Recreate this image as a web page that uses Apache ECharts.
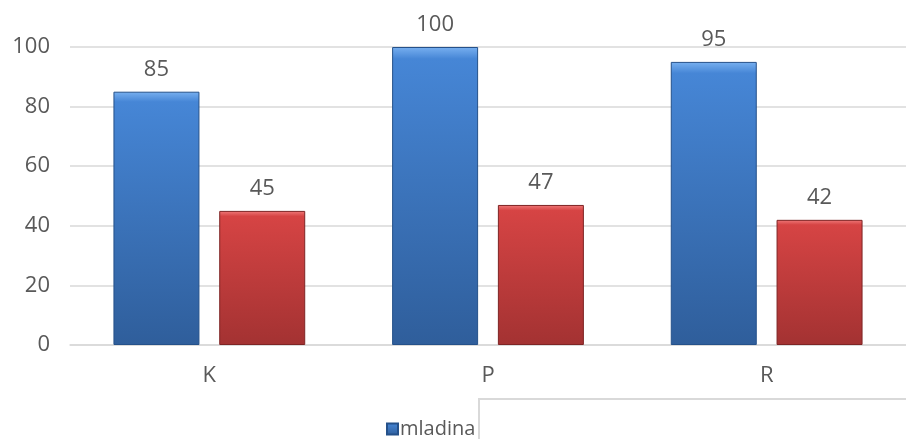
<!DOCTYPE html>
<html>
<head>
<meta charset="utf-8">
<script src="https://cdn.jsdelivr.net/npm/echarts@6/dist/echarts.min.js"></script>
<style>html,body{margin:0;padding:0;background:#fff}#c{width:906px;height:439px}</style>
</head>
<body>
<div id="c"></div>
<script>
var categories = ['K', 'P', 'R'];
var seriesBlueName = 'mladina';
var seriesBlue = [85, 100, 95];
var seriesRedName = '';
var seriesRed = [45, 47, 42];
var yTicks = [0, 20, 40, 60, 80, 100];

var chart = echarts.init(document.getElementById('c'), null, {renderer: 'canvas'});
var font = '"Open Sans", "Noto Sans", sans-serif';
function grad(top, mid, bottom) {
  return new echarts.graphic.LinearGradient(0, 0, 0, 1, [
    {offset: 0, color: top},
    {offset: 0.04, color: mid},
    {offset: 1, color: bottom}
  ]);
}
var lbl = {show: true, position: 'top', distance: 11, color: '#595959', fontSize: 22, fontFamily: font};
chart.setOption({
  animation: false,
  textStyle: {fontFamily: font},
  grid: {left: 70, right: 0, top: 47, bottom: 94, containLabel: false},
  legend: {
    data: [seriesBlueName],
    left: 381, top: 414,
    itemWidth: 11, itemHeight: 11, itemGap: 4,
    icon: 'rect',
    textStyle: {color: '#595959', fontSize: 20, fontFamily: font, padding: [0, 0, 0, -3]}
  },
  xAxis: {
    type: 'category',
    data: categories,
    axisTick: {show: false},
    axisLine: {lineStyle: {color: '#d9d9d9', width: 1.5}},
    axisLabel: {color: '#595959', fontSize: 22, margin: 20, fontFamily: font}
  },
  yAxis: {
    type: 'value',
    min: yTicks[0], max: yTicks[yTicks.length - 1], interval: 20,
    axisLine: {show: false},
    axisTick: {show: false},
    splitLine: {lineStyle: {color: '#d9d9d9', width: 1.5}},
    axisLabel: {color: '#595959', fontSize: 22, margin: 20, fontFamily: font}
  },
  series: [
    {
      name: seriesBlueName,
      type: 'bar',
      data: seriesBlue,
      barWidth: 86,
      barGap: '23%',
      itemStyle: {
        color: grad('#78b0f0', '#4686d6', '#2f5e9b'),
        borderColor: '#25518a', borderWidth: 1
      },
      label: lbl
    },
    {
      name: seriesRedName,
      type: 'bar',
      data: seriesRed,
      barWidth: 86,
      itemStyle: {
        color: grad('#f07a7a', '#d64444', '#a33232'),
        borderColor: '#7e2424', borderWidth: 1
      },
      label: lbl
    }
  ],
  graphic: [{
    type: 'rect',
    shape: {x: 479, y: 399, width: 440, height: 60},
    style: {fill: '#fff', stroke: '#d9d9d9', lineWidth: 2},
    z: 100
  }]
});
</script>
</body>
</html>
